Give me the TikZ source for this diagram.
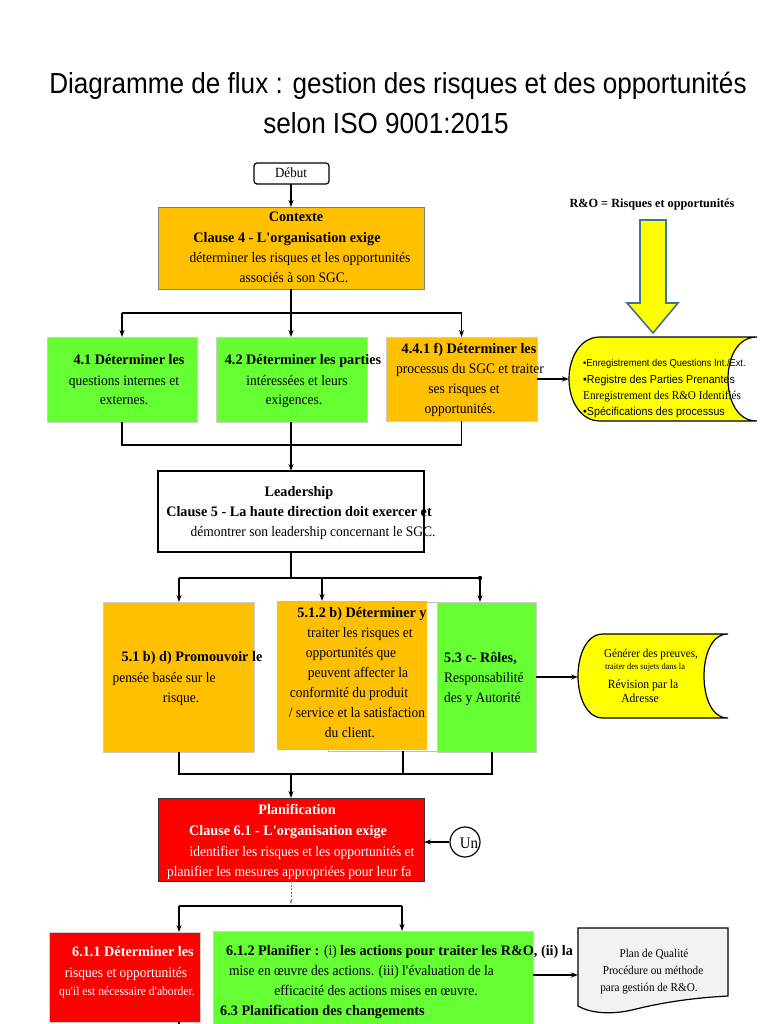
\documentclass[tikz,border=0pt]{standalone}
\usepackage{fontspec}
\setmainfont{Liberation Serif}[FakeStretch=0.93, BoldFeatures={FakeStretch=0.98}]
\newfontfamily\titlefont{Liberation Sans}[FakeStretch=0.9]
\newfontfamily\sansf{Liberation Sans}[FakeStretch=0.93]
\usetikzlibrary{arrows.meta}
\newcommand\apos{\textquotesingle}
\definecolor{orng}{HTML}{FFC000}
\definecolor{grn}{HTML}{66FF33}
\definecolor{rd}{HTML}{FF0000}
\definecolor{ylw}{HTML}{FFFF00}
\definecolor{arrblue}{HTML}{41719C}
\definecolor{docgray}{HTML}{F2F2F2}
\tikzset{
  bx/.style={anchor=north west, inner sep=0pt, outer sep=0pt, line width=0.8pt},
  ln/.style={line width=1.4pt},
  arr/.style={line width=1.4pt, -{Stealth[length=7pt,width=5pt]}},
  txt/.style={inner sep=0pt, anchor=base, font=\fontsize{14.5}{17}\selectfont},
  txtl/.style={txt, anchor=base west},
  wtxt/.style={txt, text=white},
}
\begin{document}
\begin{tikzpicture}[x=1pt,y=-1pt]
\useasboundingbox (0,0) rectangle (768,1024);

% title
\node[inner sep=0pt, anchor=base, font=\titlefont\fontsize{29}{32}\selectfont] (title1) at (398,94) {Diagramme de flux : gestion des risques et des opportunités};
\node[inner sep=0pt, anchor=base, font=\titlefont\fontsize{29}{32}\selectfont] (title2) at (386,134) {selon ISO 9001:2015};

% start
\node[bx, draw, line width=1.2pt, rounded corners=3pt, minimum width=75pt, minimum height=21pt] (debut) at (254,163) {};
\node[txt, font=\fontsize{14}{16}\selectfont] (debutT) at (291,178) {Début};

% Contexte
\node[bx, fill=orng, draw=gray, minimum width=266pt, minimum height=82pt] (ctx) at (158,207) {};
\node[txt] (ctx1) at (296,222) {\textbf{Contexte}};
\node[txt] (ctx2) at (287,242) {\textbf{Clause 4 - L\apos organisation exige}};
\node[txt] (ctx3) at (300,262) {déterminer les risques et les opportunités};
\node[txt] (ctx4) at (294,282) {associés à son SGC.};

% row 4
\node[bx, fill=grn, draw=gray!40, minimum width=150pt, minimum height=85pt] (b41) at (47,337) {};
\node[bx, fill=grn, draw=gray!40, minimum width=151pt, minimum height=85pt] (b42) at (216,337) {};
\node[bx, fill=orng, draw=gray!40, minimum width=151pt, minimum height=84pt] (b441) at (386,337) {};
\node[txt] (t411) at (129,364) {\textbf{4.1 Déterminer les}};
\node[txt] (t412) at (124,385) {questions internes et};
\node[txt] (t413) at (124,404) {externes.};
\node[txt] (t421) at (303,364) {\textbf{4.2 Déterminer les parties}};
\node[txt] (t422) at (297,385) {intéressées et leurs};
\node[txt] (t423) at (294,404) {exigences.};
\node[txt] (t4411) at (469,353) {\textbf{4.4.1 f) Déterminer les}};
\node[txt] (t4412) at (470,373) {processus du SGC et traiter};
\node[txt] (t4413) at (464,393) {ses risques et};
\node[txt] (t4414) at (460,413) {opportunités.};

% R&O legend and big arrow
\node[txt, font=\fontsize{12.5}{14}\selectfont] (ro) at (652,208) {\textbf{R\&O = Risques et opportunités}};
\draw[draw=arrblue, fill=ylw, line width=1.6pt, line join=miter]
  (640,220) -- (666,220) -- (666,303) -- (678,303) -- (653,333) -- (627,303) -- (640,303) -- cycle;

% stored data 1
\draw[fill=ylw, line width=1.2pt]
  (600,337) -- (757,337) .. controls (737,337) and (728,358) .. (728,379)
  .. controls (728,400) and (737,421) .. (757,421) -- (600,421)
  .. controls (580,421) and (569,400) .. (569,379)
  .. controls (569,358) and (580,337) .. (600,337) -- cycle;
\coordinate (sd1) at (569,379);
\node[txtl, font=\sansf\fontsize{10}{12}\selectfont] (sd1a) at (583,366) {•Enregistrement des Questions Int./Ext.};
\node[txtl, font=\sansf\fontsize{11.5}{13}\selectfont] (sd1b) at (583,383) {•Registre des Parties Prenantes};
\node[txtl, font=\fontsize{12}{13}\selectfont] (sd1c) at (583,399) {Enregistrement des R\&O Identifiés};
\node[txtl, font=\sansf\fontsize{11.5}{13}\selectfont] (sd1d) at (583,415) {•Spécifications des processus};

% Leadership
\node[bx, fill=white, draw=black, line width=1.2pt, minimum width=266pt, minimum height=81pt] (lead) at (158,471) {};
\node[txt] (l1) at (299,496) {\textbf{Leadership}};
\node[txt] (l2) at (299,516) {\textbf{Clause 5 - La haute direction doit exercer et}};
\node[txt] (l3) at (313,536) {démontrer son leadership concernant le SGC.};

% row 5
\node[bx, fill=orng, draw=gray!40, minimum width=151pt, minimum height=150pt] (b51) at (103,602) {};
\node[bx, fill=white, draw=gray!50, minimum width=109pt, minimum height=149pt] (b512bg) at (328,602) {};
\node[bx, fill=orng, draw=none, minimum width=150pt, minimum height=149pt] (b512) at (277,601) {};
\node[bx, fill=grn, draw=gray!40, minimum width=99pt, minimum height=150pt] (b53) at (437,602) {};
\node[txt] (t511) at (192,661) {\textbf{5.1 b) d) Promouvoir le}};
\node[txt] (t512) at (164,682) {pensée basée sur le};
\node[txt] (t513) at (181,702) {risque.};
\node[txt] (t5121) at (362,617) {\textbf{5.1.2 b) Déterminer y}};
\node[txt] (t5122) at (360,637) {traiter les risques et};
\node[txt] (t5123) at (351,657) {opportunités que};
\node[txt] (t5124) at (358,677) {peuvent affecter la};
\node[txt] (t5125) at (349,697) {conformité du produit};
\node[txt] (t5126) at (357,717) {/ service et la satisfaction};
\node[txt] (t5127) at (350,737) {du client.};
\node[txtl] (t531) at (444,662) {\textbf{5.3 c- Rôles,}};
\node[txtl] (t532) at (444,682) {Responsabilité};
\node[txtl] (t533) at (444,702) {des y Autorité};

% stored data 2
\draw[fill=ylw, line width=1.2pt]
  (603,634) -- (728,634) .. controls (711,634) and (704,656) .. (704,676)
  .. controls (704,696) and (711,718) .. (728,718) -- (603,718)
  .. controls (586,718) and (578,696) .. (578,676)
  .. controls (578,656) and (586,634) .. (603,634) -- cycle;
\coordinate (sd2) at (578,677);
\node[txt, font=\fontsize{12}{13}\selectfont] (sd2a) at (651,657) {Générer des preuves,};
\node[txt, font=\fontsize{9}{10}\selectfont] (sd2b) at (645,669) {traiter des sujets dans la};
\node[txt, font=\fontsize{12.5}{14}\selectfont] (sd2c) at (643,688) {Révision par la};
\node[txt, font=\fontsize{12.5}{14}\selectfont] (sd2d) at (640,702) {Adresse};

% Planification
\node[bx, fill=rd, draw=black!80, line width=1pt, minimum width=266pt, minimum height=83pt] (plan) at (158,798) {};
\node[wtxt] (p1) at (297,814) {\textbf{Planification}};
\node[wtxt] (p2) at (288,835) {\textbf{Clause 6.1 - L\apos organisation exige}};
\node[wtxt] (p3) at (302,856) {identifier les risques et les opportunités et};
\begin{scope}
  \clip (158,798) rectangle (424,881);
  \node[wtxt, anchor=base west] (p4) at (167,876) {planifier les mesures appropriées pour leur fa};
\end{scope}
\node[circle, draw, line width=1.2pt, minimum size=30pt, inner sep=0pt] (un) at (465,842) {};
\node[txt, font=\fontsize{16}{18}\selectfont] (unT) at (469,848) {Un};

% row 6
\node[bx, fill=rd, draw=gray!40, minimum width=151pt, minimum height=90pt] (b611) at (49,932) {};
\node[bx, fill=grn, draw=gray!40, minimum width=320pt, minimum height=100pt] (b612) at (213,931) {};
\node[wtxt] (t6111) at (133,956) {\textbf{6.1.1 Déterminer les}};
\node[wtxt] (t6112) at (126,977) {risques et opportunités};
\node[wtxt, font=\fontsize{12.5}{14}\selectfont] (t6113) at (127,995) {qu\apos il est nécessaire d\apos aborder.};
\node[txtl] (t6121) at (226,955) {\textbf{6.1.2 Planifier : }(i) \textbf{les actions pour traiter les R\&O, (ii) la}};
\node[txtl] (t6122) at (229,975) {mise en œuvre des actions. (iii) l\apos évaluation de la};
\node[txt] (t6123) at (376,995) {efficacité des actions mises en œuvre.};
\node[txtl] (t6124) at (220,1015) {\textbf{6.3 Planification des changements}};

% document
\draw[fill=docgray, line width=1.2pt]
  (578,928) -- (728,928) -- (728,996)
  .. controls (690,998) and (660,1003) .. (632,1010)
  .. controls (610,1015) and (590,1013) .. (578,1006) -- cycle;
\coordinate (docw) at (578,975);
\node[txt, font=\fontsize{12}{14}\selectfont] (d1) at (654,957) {Plan de Qualité};
\node[txt, font=\fontsize{12}{14}\selectfont] (d2) at (653,974) {Procédure ou méthode};
\node[txt, font=\fontsize{12}{14}\selectfont] (d3) at (649,991) {para gestión de R\&O.};

% ---------- connectors ----------
\draw[arr] (debut.south -| ctx.north) -- (ctx.north);
% ctx -> row 4
\coordinate (h1) at (291,313);
\draw[ln] (ctx.south) -- (h1);
\draw[ln] (b41.north |- h1) -- (b441.north |- h1);
\draw[arr] (b41.north |- h1) -- (b41.north);
\draw[arr] (h1) -- (h1 |- b42.north);
\draw[arr] (b441.north |- h1) -- (b441.north);
\draw[arr] (b441.east) -- (sd1);
% row 4 -> leadership
\coordinate (h2) at (291,445);
\draw[ln] (b41.south) -- (b41.south |- h2) -- (b441.south |- h2) -- (b441.south);
\draw[arr] (h2 |- b42.south) -- (lead.north);
% leadership -> row 5
\coordinate (h3) at (291,578);
\coordinate (h3a) at (179,578);
\coordinate (h3b) at (322,578);
\coordinate (h3c) at (480,578);
\draw[ln] (lead.south) -- (h3);
\draw[ln] (h3a) -- (h3c);
\draw[arr] (h3a) -- (h3a |- b51.north);
\draw[arr] (h3b) -- (h3b |- b512.north);
\draw[arr] (h3c) -- (h3c |- b53.north);
\fill (h3c) circle (2.2);
\draw[arr] (b53.east) -- (sd2);
% row 5 -> planification
\coordinate (h4a) at (179,774);
\coordinate (h4b) at (403,774);
\coordinate (h4c) at (492,774);
\draw[ln] (h4a |- b51.south) -- (h4a) -- (h4c) -- (h4c |- b53.south);
\draw[ln] (h4b |- b512bg.south) -- (h4b);
\draw[arr] (291,774) -- (plan.north);
\draw[arr] (un.west) -- (un.west -| plan.east);
% planification -> row 6
\coordinate (h5a) at (179,906);
\coordinate (h5b) at (402,906);
\draw[gray, line width=0.8pt, dash pattern=on 2pt off 1.5pt, -{Stealth[length=4pt,width=3pt]}] (plan.south) -- (291,904);
\draw[ln] (h5a) -- (h5b);
\draw[arr] (h5a) -- (h5a |- b611.north);
\draw[arr] (h5b) -- (h5b |- b612.north);
\draw[ln] (h5a |- b611.south) -- (179,1026);
\draw[arr] (b612.east |- docw) -- (docw);
\end{tikzpicture}
\end{document}
